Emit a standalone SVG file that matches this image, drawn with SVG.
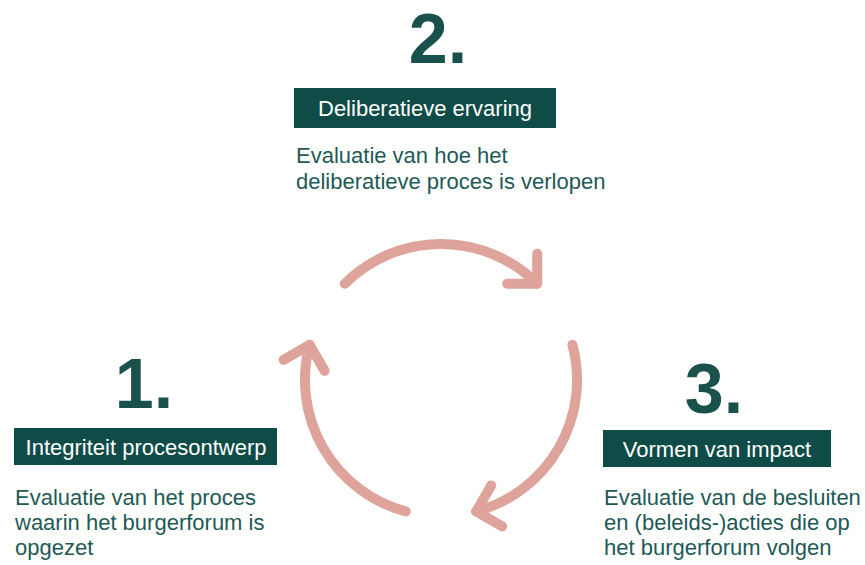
<svg xmlns="http://www.w3.org/2000/svg" width="865" height="565" viewBox="0 0 865 565">
<style>
.num{font-family:"Liberation Sans",Arial,sans-serif;font-weight:bold;font-size:70px;fill:#1b514d;text-anchor:middle}
.box{fill:#0f4c47}
.lbl{font-family:"Liberation Sans",Arial,sans-serif;font-size:22px;fill:#ffffff;text-anchor:middle}
.desc{font-family:"Liberation Sans",Arial,sans-serif;font-size:22px;fill:#1e5a56}
.arc{fill:none;stroke:#dea49c;stroke-width:10;stroke-linecap:round;stroke-linejoin:round}
</style>
<rect width="865" height="565" fill="#ffffff"/>
<g id="connectors">
<path class="arc" d="M344.8 283.8 A136 136 0 0 1 537.2 283.8"/>
<path class="arc" d="M537.2 253.8 L537.2 283.8 L507.2 283.8"/>
<path class="arc" d="M572.4 344.8 A136 136 0 0 1 476.2 511.4"/>
<path class="arc" d="M491.2 485.4 L476.2 511.4 L502.2 526.4"/>
<path class="arc" d="M405.8 511.4 A136 136 0 0 1 309.6 344.8"/>
<path class="arc" d="M324.6 370.8 L309.6 344.8 L283.6 359.8"/>
</g>
<g id="node1">
<text class="num" x="144" y="408">1.</text>
<rect class="box" x="14" y="428" width="263" height="37"/>
<text class="lbl" x="146" y="455">Integriteit procesontwerp</text>
<text class="desc" x="15" y="505">Evaluatie van het proces</text>
<text class="desc" x="15" y="530">waarin het burgerforum is</text>
<text class="desc" x="15" y="555">opgezet</text>
</g>
<g id="node2">
<text class="num" x="438" y="63">2.</text>
<rect class="box" x="294" y="88" width="262" height="40"/>
<text class="lbl" x="425" y="116">Deliberatieve ervaring</text>
<text class="desc" x="296" y="163">Evaluatie van hoe het</text>
<text class="desc" x="296" y="189">deliberatieve proces is verlopen</text>
</g>
<g id="node3">
<text class="num" x="714" y="413">3.</text>
<rect class="box" x="603" y="430" width="228" height="37"/>
<text class="lbl" x="717" y="457">Vormen van impact</text>
<text class="desc" x="604" y="505">Evaluatie van de besluiten</text>
<text class="desc" x="604" y="530">en (beleids-)acties die op</text>
<text class="desc" x="604" y="555">het burgerforum volgen</text>
</g>
</svg>
